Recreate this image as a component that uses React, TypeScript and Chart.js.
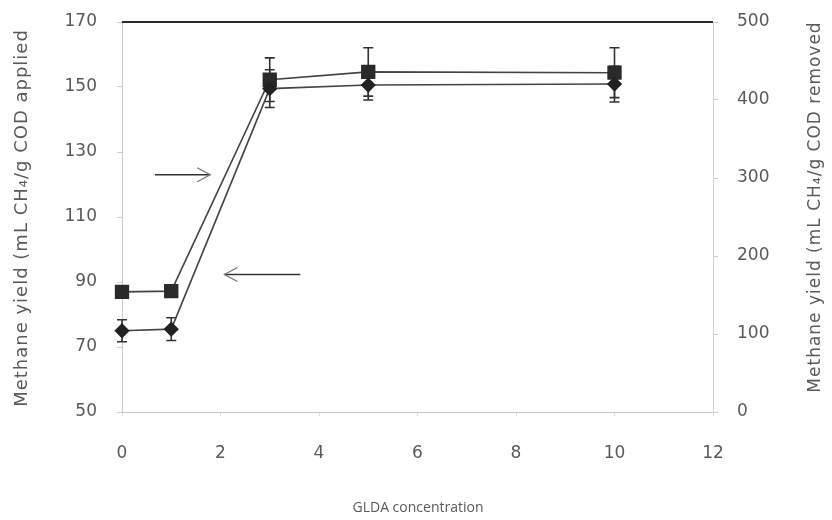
import React, { useEffect, useRef } from "react";
import { Chart, registerables } from "chart.js";

Chart.register(...registerables);

// GLDA concentration levels
const glda = [0, 1, 3, 5, 10];
// Methane yield per g COD applied (left axis) with standard deviations
const yieldApplied = [75, 75.5, 149.5, 150.6, 150.9];
const yieldAppliedErr = [3.4, 3.5, 5.8, 4.6, 5.5];
// Methane yield per g COD removed (right axis) with standard deviations
const yieldRemoved = [154, 155, 426, 436, 435];
const yieldRemovedErr = [4, 4, 28, 31, 32];

// Axis tick ranges
const xTicks = { min: 0, max: 12, step: 2 };
const leftTicks = { min: 50, max: 170, step: 20 };
const rightTicks = { min: 0, max: 500, step: 100 };

// Axis titles
const xTitle = "GLDA concentration";
const leftTitle = "Methane yield (mL CH\u2084/g COD applied";
const rightTitle = "Methane yield (mL CH\u2084/g COD removed";

// Pointer arrows (data units on x / left axis): [xFrom, xTo, y]
const arrowToRight = [0.67, 1.79, 123];
const arrowToLeft = [3.62, 2.08, 92.3];

const TEXT = "#5a5a5a";
const FONT = "'DejaVu Sans', sans-serif";

const decorPlugin = {
  id: "decor",
  beforeDatasetsDraw(chart: any) {
    const { ctx, chartArea, scales } = chart;
    const x = scales.x;
    const groups: [string, number[], number[]][] = [
      ["yL", yieldApplied, yieldAppliedErr],
      ["yR", yieldRemoved, yieldRemovedErr],
    ];
    ctx.save();
    ctx.strokeStyle = "#333";
    ctx.lineWidth = 1.6;
    for (const [axis, vals, errs] of groups) {
      const ys = scales[axis];
      vals.forEach((v, i) => {
        const px = x.getPixelForValue(glda[i]);
        const top = ys.getPixelForValue(v + errs[i]);
        const bot = ys.getPixelForValue(v - errs[i]);
        ctx.beginPath();
        ctx.moveTo(px, top);
        ctx.lineTo(px, bot);
        ctx.moveTo(px - 5, top);
        ctx.lineTo(px + 5, top);
        ctx.moveTo(px - 5, bot);
        ctx.lineTo(px + 5, bot);
        ctx.stroke();
      });
    }
    // top frame line
    ctx.strokeStyle = "#2a2a2a";
    ctx.lineWidth = 2;
    ctx.beginPath();
    ctx.moveTo(chartArea.left, chartArea.top);
    ctx.lineTo(chartArea.right, chartArea.top);
    ctx.stroke();

    // arrows
    const drawArrow = (a: number[]) => {
      const x0 = x.getPixelForValue(a[0]);
      const x1 = x.getPixelForValue(a[1]);
      const y = scales.yL.getPixelForValue(a[2]);
      const dir = Math.sign(x1 - x0);
      ctx.strokeStyle = "#333";
      ctx.lineWidth = 1.5;
      ctx.beginPath();
      ctx.moveTo(x0, y);
      ctx.lineTo(x1, y);
      ctx.stroke();
      ctx.strokeStyle = "#777";
      ctx.lineWidth = 1.3;
      ctx.beginPath();
      ctx.moveTo(x1 - dir * 13, y - 7);
      ctx.lineTo(x1, y);
      ctx.lineTo(x1 - dir * 13, y + 7);
      ctx.stroke();
    };
    drawArrow(arrowToRight);
    drawArrow(arrowToLeft);
    ctx.restore();
  },
  afterDraw(chart: any) {
    const { ctx } = chart;
    ctx.save();
    ctx.fillStyle = TEXT;
    ctx.textAlign = "center";
    ctx.textBaseline = "middle";
    ctx.font = `18px ${FONT}`;
    ctx.letterSpacing = "1px";
    ctx.save();
    ctx.translate(22, 218);
    ctx.rotate(-Math.PI / 2);
    ctx.fillText(leftTitle, 0, 0);
    ctx.restore();
    ctx.font = `17px ${FONT}`;
    ctx.letterSpacing = "1px";
    ctx.save();
    ctx.translate(816, 207);
    ctx.rotate(-Math.PI / 2);
    ctx.fillText(rightTitle, 0, 0);
    ctx.restore();
    ctx.letterSpacing = "0px";
    ctx.font = `14px 'Open Sans', sans-serif`;
    ctx.fillText(xTitle, 418, 508);
    ctx.restore();
  },
};

export default function App() {
  const ref = useRef<HTMLCanvasElement | null>(null);

  useEffect(() => {
    if (!ref.current) return;
    const fitY = (w: number) => (s: any) => {
      s.width = w;
      s.paddingTop = 0;
      s.paddingBottom = 0;
    };
    const chart = new Chart(ref.current, {
      type: "line",
      data: {
        datasets: [
          {
            label: "COD applied",
            data: glda.map((g, i) => ({ x: g, y: yieldApplied[i] })),
            yAxisID: "yL",
            borderColor: "#444",
            borderWidth: 1.6,
            pointStyle: "rectRot",
            pointRadius: 6.5,
            pointBackgroundColor: "#222",
            pointBorderColor: "#222",
            clip: false,
          },
          {
            label: "COD removed",
            data: glda.map((g, i) => ({ x: g, y: yieldRemoved[i] })),
            yAxisID: "yR",
            borderColor: "#444",
            borderWidth: 1.6,
            pointStyle: "rect",
            pointRadius: 9,
            pointBackgroundColor: "#2a2a2a",
            pointBorderColor: "#2a2a2a",
            clip: false,
          },
        ],
      },
      options: {
        responsive: false,
        animation: false,
        layout: { padding: { top: 22, left: 0, right: 0, bottom: 0 } },
        plugins: {
          legend: { display: false },
          tooltip: { enabled: false },
          title: { display: false },
        },
        scales: {
          x: {
            type: "linear",
            min: xTicks.min,
            max: xTicks.max,
            afterFit: (s: any) => {
              s.height = 108;
              s.paddingLeft = 0;
              s.paddingRight = 0;
            },
            ticks: {
              stepSize: xTicks.step,
              color: TEXT,
              font: { family: FONT, size: 17 },
              padding: 27,
            },
            grid: { drawOnChartArea: false, drawTicks: true, tickLength: 4, color: "#ddd" },
            border: { display: true, color: "#c8c8c8", width: 1 },
          },
          yL: {
            type: "linear",
            position: "left",
            min: leftTicks.min,
            max: leftTicks.max,
            afterFit: fitY(122),
            ticks: {
              stepSize: leftTicks.step,
              color: TEXT,
              font: { family: FONT, size: 17 },
              padding: 20,
            },
            grid: { drawOnChartArea: false, drawTicks: true, tickLength: 5, color: "#ccc" },
            border: { display: true, color: "#c8c8c8", width: 1, dash: [2, 3] },
          },
          yR: {
            type: "linear",
            position: "right",
            min: rightTicks.min,
            max: rightTicks.max,
            afterFit: fitY(119),
            ticks: {
              stepSize: rightTicks.step,
              color: TEXT,
              font: { family: FONT, size: 17 },
              padding: 19,
            },
            grid: { drawOnChartArea: false, drawTicks: true, tickLength: 5, color: "#ccc" },
            border: { display: true, color: "#d0d0d0", width: 1 },
          },
        },
      },
      plugins: [decorPlugin],
    });
    return () => chart.destroy();
  }, []);

  return (
    <div style={{ position: "absolute", left: 0, top: 0, width: 832, height: 520, background: "#fff" }}>
      <canvas ref={ref} width={832} height={520} />
    </div>
  );
}
